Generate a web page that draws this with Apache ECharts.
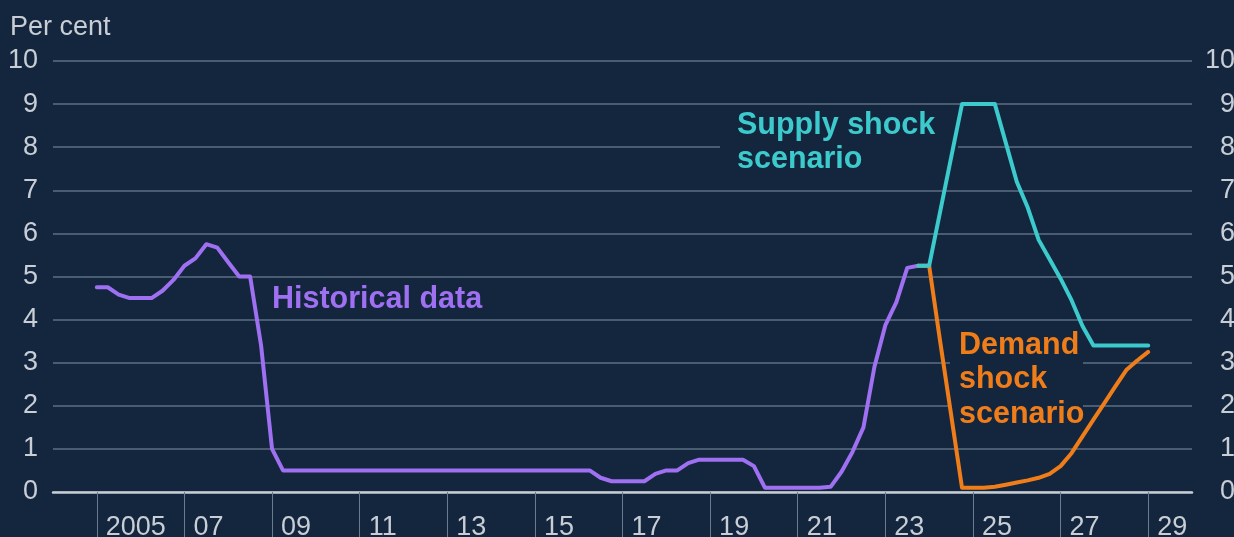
<!DOCTYPE html>
<html>
<head>
<meta charset="utf-8">
<script src="https://cdn.jsdelivr.net/npm/echarts@6/dist/echarts.min.js"></script>
<style>
html,body{margin:0;padding:0;background:#13263e;}
#c{width:1234px;height:537px;}
</style>
</head>
<body>
<div id="c"></div>
<script>
// Bank Rate, quarterly averages, plotted at quarter start (first quarter 2005 Q1)
const histStartYear = 2005;
const historical = [
  4.75, 4.75, 4.58, 4.5,    // 2005
  4.5, 4.5, 4.67, 4.92,     // 2006
  5.25, 5.42, 5.75, 5.67,   // 2007
  5.33, 5.0, 5.0, 3.4,      // 2008
  1.0, 0.5, 0.5, 0.5,       // 2009
  0.5, 0.5, 0.5, 0.5,       // 2010
  0.5, 0.5, 0.5, 0.5,       // 2011
  0.5, 0.5, 0.5, 0.5,       // 2012
  0.5, 0.5, 0.5, 0.5,       // 2013
  0.5, 0.5, 0.5, 0.5,       // 2014
  0.5, 0.5, 0.5, 0.5,       // 2015
  0.5, 0.5, 0.33, 0.25,     // 2016
  0.25, 0.25, 0.25, 0.42,   // 2017
  0.5, 0.5, 0.67, 0.75,     // 2018
  0.75, 0.75, 0.75, 0.75,   // 2019
  0.6, 0.1, 0.1, 0.1,       // 2020
  0.1, 0.1, 0.1, 0.12,      // 2021
  0.47, 0.93, 1.5, 2.9,     // 2022
  3.87, 4.4, 5.2, 5.25      // 2023
];
// Scenarios, quarterly from 2023 Q4
const scenStartYear = 2023.75;
const supplyShock = [
  5.25, 5.25, 6.5, 7.75, 9.0,   // 2023Q4, 2024Q1-Q4
  9.0, 9.0, 9.0, 8.1,           // 2025
  7.2, 6.6, 5.85, 5.4,          // 2026
  4.95, 4.45, 3.85, 3.4,        // 2027
  3.4, 3.4, 3.4, 3.4,           // 2028
  3.4                           // 2029Q1
];
const demandShock = [
  5.25, 5.25, 3.5, 1.8, 0.1,    // 2023Q4, 2024Q1-Q4
  0.1, 0.1, 0.12, 0.17,         // 2025
  0.22, 0.27, 0.33, 0.42,       // 2026
  0.6, 0.9, 1.29, 1.68,         // 2027
  2.06, 2.45, 2.83, 3.05,       // 2028
  3.25                          // 2029Q1
];
const xTickYears = [2005, 2007, 2009, 2011, 2013, 2015, 2017, 2019, 2021, 2023, 2025, 2027, 2029];
const yTicks = [0,1,2,3,4,5,6,7,8,9,10];

const toPairs = (start, arr) => arr.map((v, i) => [start + i * 0.25, v]);

const BG = '#13263e';
const TXT = '#c9ced6';
const GRID = '#4a5c72';
const FONT = 'Liberation Sans';
const PURPLE = '#9f70f2';
const CYAN = '#3ccacd';
const ORANGE = '#ef7d1a';

const chart = echarts.init(document.getElementById('c'), null, {renderer: 'canvas'});
chart.setOption({
  backgroundColor: BG,
  animation: false,
  textStyle: {fontFamily: FONT},
  grid: {left: 53, right: 42, top: 61, bottom: 45, containLabel: false, outerBoundsMode: 'none'},
  xAxis: {
    type: 'value', min: 2004, max: 2030,
    axisLine: {show: true, onZero: false, lineStyle: {color: '#c8cdd4', width: 2.5}},
    axisTick: {show: true, customValues: xTickYears, length: 45, inside: false, lineStyle: {color: '#6b7b8f', width: 1}},
    axisLabel: {
      customValues: xTickYears, color: TXT, fontSize: 27, fontFamily: FONT,
      align: 'left', margin: 22, padding: [0, 0, 0, 9],
      formatter: v => (v === 2005 ? '2005' : String(v).slice(2))
    },
    splitLine: {show: false}
  },
  yAxis: [
    {
      type: 'value', min: 0, max: 10, interval: 1,
      axisLine: {show: false}, axisTick: {show: false},
      axisLabel: {color: TXT, fontSize: 27, fontFamily: FONT, margin: 15},
      splitLine: {show: true, lineStyle: {color: GRID, width: 2}}
    },
    {
      type: 'value', min: 0, max: 10, interval: 1, position: 'right',
      axisLine: {show: false}, axisTick: {show: false},
      axisLabel: {color: TXT, fontSize: 27, fontFamily: FONT, align: 'right', margin: 43},
      splitLine: {show: false}
    }
  ],
  series: [
    {
      name: 'Historical data', type: 'line', showSymbol: false, z: 3,
      data: toPairs(histStartYear, historical),
      lineStyle: {color: PURPLE, width: 4, join: 'round', cap: 'round'}
    },
    {
      name: 'Demand shock scenario', type: 'line', showSymbol: false, z: 4,
      data: toPairs(scenStartYear, demandShock),
      lineStyle: {color: ORANGE, width: 4, join: 'round', cap: 'round'}
    },
    {
      name: 'Supply shock scenario', type: 'line', showSymbol: false, z: 5,
      data: toPairs(scenStartYear, supplyShock),
      lineStyle: {color: CYAN, width: 4, join: 'round', cap: 'round'}
    }
  ],
  graphic: [
    {type: 'text', left: 10, top: 14, z: 10,
     style: {text: 'Per cent', fill: TXT, font: '27px "Liberation Sans"'}},
    {type: 'rect', z: 1, shape: {x: 720, y: 112, width: 238, height: 72}, style: {fill: BG}},
    {type: 'rect', z: 1, shape: {x: 950, y: 330, width: 133, height: 102}, style: {fill: BG}},
    {type: 'text', z: 10, x: 272, y: 300,
     style: {text: 'Historical data', fill: PURPLE, font: 'bold 30.5px "Liberation Sans"', verticalAlign: 'middle'}},
    {type: 'text', z: 10, x: 737, y: 109,
     style: {text: 'Supply shock\nscenario', fill: CYAN, font: 'bold 30.5px "Liberation Sans"', lineHeight: 34, verticalAlign: 'top'}},
    {type: 'text', z: 10, x: 959, y: 328,
     style: {text: 'Demand\nshock\nscenario', fill: ORANGE, font: 'bold 30.5px "Liberation Sans"', lineHeight: 34.5, verticalAlign: 'top'}}
  ]
});
</script>
</body>
</html>
